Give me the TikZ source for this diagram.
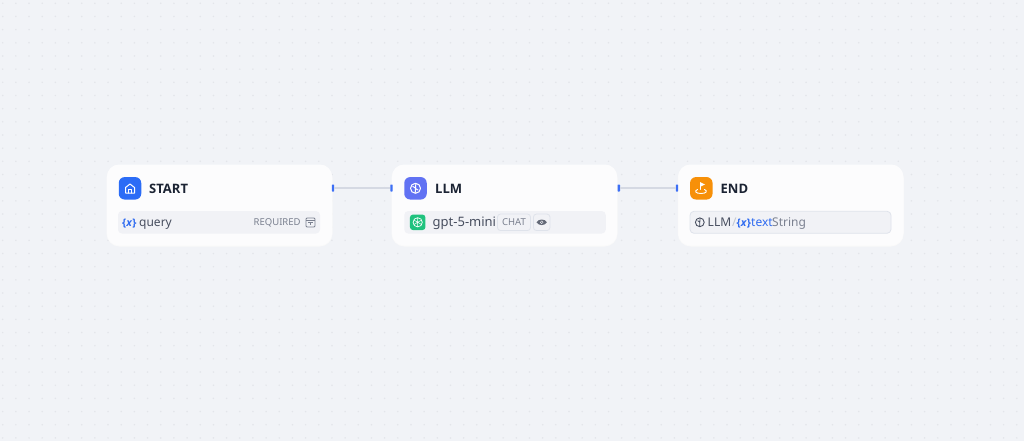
\documentclass[tikz,border=0pt]{standalone}
\usepackage{fontspec}
\setmainfont{Noto Sans}
\newfontfamily\titlefont{Open Sans}
\usetikzlibrary{positioning,calc}
\definecolor{canvasbg}{HTML}{F1F3F7}
\definecolor{dotgray}{HTML}{E3E5EA}
\definecolor{cardbg}{HTML}{FCFCFD}
\definecolor{rowbg}{HTML}{F1F2F6}
\definecolor{rowline}{HTML}{DFE3EB}
\definecolor{titleink}{HTML}{1B2333}
\definecolor{rowink}{HTML}{474E5F}
\definecolor{mutedink}{HTML}{7B8190}
\definecolor{varblue}{HTML}{2F6BF0}
\definecolor{handleblue}{HTML}{3D6FF5}
\definecolor{wiregray}{HTML}{D5D9E3}
\definecolor{startblue}{HTML}{2B6CF6}
\definecolor{llmblue}{HTML}{6172F3}
\definecolor{endorange}{HTML}{F79009}
\definecolor{gptgreen}{HTML}{1FC27E}
\newcommand{\varmark}{\{\textit{x}\}}
\tikzset{
    card/.style={fill=cardbg, rounded corners=12pt, inner sep=0pt, minimum width=225pt, minimum height=81pt},
    iconbox/.style={rounded corners=6pt, inner sep=0pt, minimum size=22.5pt},
    title/.style={font=\titlefont\fontsize{13}{15}\selectfont\bfseries, text=titleink, inner sep=0pt, anchor=base west},
    rowbox/.style={fill=rowbg, rounded corners=4pt, inner sep=0pt, minimum width=202pt, minimum height=22.5pt},
    rowtext/.style={font=\fontsize{12}{14}\selectfont, text=rowink, inner sep=0pt, anchor=base west},
    vartext/.style={font=\titlefont\fontsize{10.5}{12}\selectfont\bfseries, text=varblue, inner sep=0pt, anchor=base west},
    badge/.style={draw=rowline, fill=rowbg, rounded corners=3pt, inner sep=0pt, minimum height=16.5pt, line width=0.8pt},
    handle/.style={fill=handleblue, inner sep=0pt, minimum width=2.4pt, minimum height=7pt, rounded corners=0.6pt},
    wire/.style={draw=wiregray, line width=2.4pt},
    glyph/.style={draw=white, line width=1pt, line cap=round, line join=round}
}
\begin{document}
\begin{tikzpicture}[x=1pt, y=-1pt]
    \useasboundingbox (0,0) rectangle (1024,441);
    \fill[canvasbg] (0,0) rectangle (1024,441);
    % Dot grid
    \foreach \i in {0,...,77} {
        \foreach \j in {0,...,33} {
            \fill[dotgray] ({2.7+13.17*\i}, {3.3+13.17*\j}) circle (0.85pt);
        }
    }
    % Soft card shadows
    \foreach \cx in {219.5, 504.5, 790.75} {
        \fill[black!2, rounded corners=13pt] (\cx-113, 165) rectangle (\cx+113, 246.5);
    }
    % Cards
    \node[card] (startcard) at (219.5, 205) {};
    \node[card] (llmcard) at (504.5, 205) {};
    \node[card] (endcard) at (790.75, 205) {};
    % Handles and wires
    \node[handle] (startout) at (333, 188) {};
    \node[handle] (llmin) at (391.5, 188) {};
    \node[handle] (llmout) at (618.8, 188) {};
    \node[handle] (endin) at (677, 188) {};
    \draw[wire] (startout) -- (llmin);
    \draw[wire] (llmout) -- (endin);
    % START
    \node[iconbox, fill=startblue] (starticon) at (130, 188.3) {};
    \node[title] (starttitle) at (149, 193) {START};
    \draw[glyph] (125.5,187.5) -- (130,184) -- (134.5,187.5) -- (134.5,193) -- (125.5,193) -- cycle;
    \draw[glyph] (128.2,193) -- (128.2,189.7) -- (131.8,189.7) -- (131.8,193);
    \node[rowbox] (startrow) at (219, 222.3) {};
    \node[vartext] (startvar) at (122, 226) {\varmark};
    \node[rowtext] (startname) at (139, 226) {query};
    \node[inner sep=0pt, anchor=base west, font=\fontsize{9.5}{11}\selectfont, text=mutedink] (startreq) at (253.5, 225.5) {REQUIRED};
    \draw[mutedink, line width=0.9pt, rounded corners=1pt] (306,218) rectangle (315,227);
    \draw[mutedink, line width=0.9pt] (306,220.6) -- (315,220.6) (308.3,222.6) -- (312.7,222.6) (310.5,222.6) -- (310.5,225);
    % LLM
    \node[iconbox, fill=llmblue] (llmicon) at (415.5, 188.3) {};
    \node[title] (llmtitle) at (435, 193) {LLM};
    \draw[glyph] (415.5,188.3) circle (5pt);
    \draw[glyph] (415.8,184) -- (415.2,192.6) (412.8,186.5) -- (415.5,188) (418,190) -- (415.5,188.5);
    \node[rowbox, minimum width=201.5pt] (llmrow) at (505, 222.3) {};
    \node[fill=gptgreen, rounded corners=3pt, inner sep=0pt, minimum size=15.5pt] (gpticon) at (417.7, 222.3) {};
    \draw[white, line width=0.7pt] (417.7,222.3) circle (4.6pt);
    \draw[white, line width=0.5pt] (417.7,217.7) -- (417.7,226.9) (413.7,220) -- (421.7,224.6) (413.7,224.6) -- (421.7,220);
    \node[rowtext, font=\fontsize{13}{15}\selectfont] (llmname) at (432.5, 226.5) {gpt-5-mini};
    \node[badge, minimum width=33pt, font=\fontsize{9.5}{11}\selectfont, text=mutedink] (chatbadge) at (514, 222.3) {CHAT};
    \node[badge, minimum width=16.5pt] (eyebadge) at (541.7, 222.3) {};
    \fill[rowink!85] (536.5,222.3) .. controls (538.5,218.6) and (544.9,218.6) .. (546.9,222.3) .. controls (544.9,226) and (538.5,226) .. (536.5,222.3) -- cycle;
    \fill[rowbg] (541.7,222.3) circle (1.7pt);
    \fill[rowink!85] (541.7,222.3) circle (0.9pt);
    % END
    \node[iconbox, fill=endorange] (endicon) at (701.3, 188.3) {};
    \node[title] (endtitle) at (720.5, 193) {END};
    \draw[glyph, line width=0.9pt] (700.5,189.5) -- (700.5,182.5);
    \fill[white] (700.5,182.3) -- (705,184.5) -- (700.5,186.7) -- cycle;
    \draw[glyph, line width=0.9pt] (697.5,189.5) .. controls (694,191) and (695.5,193.5) .. (701,193.5) .. controls (706.5,193.5) and (708,191) .. (704.5,189.5);
    \node[rowbox, draw=rowline, line width=0.8pt, minimum width=201pt, minimum height=22pt] (endrow) at (790.5, 222.3) {};
    \draw[rowink, line width=0.9pt] (699.8,222.3) circle (4.4pt);
    \draw[rowink, line width=0.8pt] (700,218.3) -- (699.6,226.3) (697.6,220.6) -- (699.8,222.2);
    \node[rowtext] (endllm) at (707.5, 226.5) {LLM};
    \node[rowtext, text=rowline!70!mutedink] (endslash) at (732, 226.5) {/};
    \node[vartext] (endvar) at (736.5, 226.5) {\varmark};
    \node[rowtext, text=varblue] (endtext) at (751, 226.5) {text};
    \node[rowtext, text=mutedink] (endtype) at (772, 226.5) {String};
\end{tikzpicture}
\end{document}
